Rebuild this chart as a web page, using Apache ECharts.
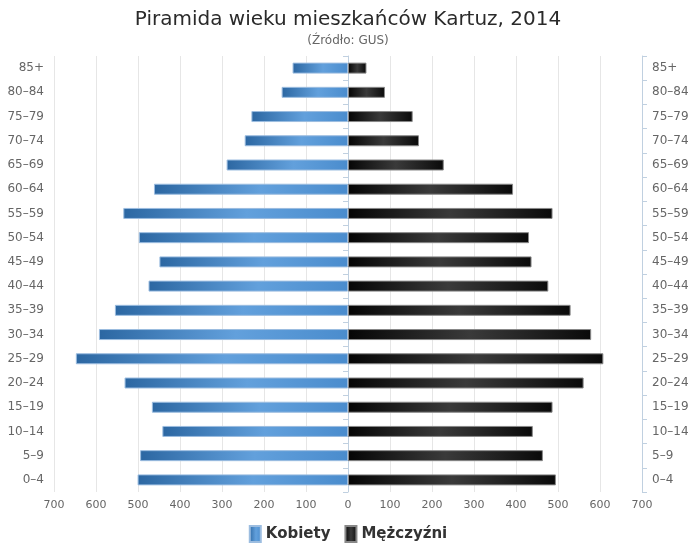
<!DOCTYPE html>
<html><head><meta charset="utf-8">
<script src="https://cdn.jsdelivr.net/npm/echarts@6/dist/echarts.min.js"></script>
<style>html,body{margin:0;padding:0;background:#fff}#c{width:696px;height:557px}</style>
</head><body><div id="c"></div>
<script>
const ageGroups = ['0–4','5–9','10–14','15–19','20–24','25–29','30–34','35–39','40–44','45–49','50–54','55–59','60–64','65–69','70–74','75–79','80–84','85+'];
const women = [501,495,442,467,532,648,593,555,475,449,498,535,462,289,246,230,158,132];
const men = [495,464,440,487,561,608,579,530,477,437,431,487,393,228,169,154,88,44];
const xTicks = {min:-700, max:700, step:100};

const chart = echarts.init(document.getElementById('c'), null, {renderer:'canvas'});
const font = 'DejaVu Sans';
const blue = new echarts.graphic.LinearGradient(0,0,1,0,[
  {offset:0,color:'#2c67a2'},{offset:0.55,color:'#62a0dc'},{offset:1,color:'#4a8ccd'}]);
const black = new echarts.graphic.LinearGradient(0,0,1,0,[
  {offset:0,color:'#050505'},{offset:0.5,color:'#3a3a3a'},{offset:1,color:'#0a0a0a'}]);
const yAxisBase = {
  type:'category', data:ageGroups, boundaryGap:true,
  axisLine:{show:true,lineStyle:{color:'#c0d0e0',width:1}},
  axisTick:{show:true,length:5,lineStyle:{color:'#c0d0e0'}},
  axisLabel:{color:'#666',fontSize:12,fontFamily:font,margin:10},
  splitLine:{show:false}
};
chart.setOption({
  animation:false,
  title:{
    text:'Piramida wieku mieszkańców Kartuz, 2014',
    subtext:'(Źródło: GUS)',
    left:'center', top:5, itemGap:5,
    textStyle:{fontFamily:font,fontSize:20,fontWeight:'normal',color:'#2a2a2a'},
    subtextStyle:{fontFamily:font,fontSize:12,color:'#666'}
  },
  legend:{
    bottom:9, left:'center', itemWidth:11, itemHeight:16, itemGap:14, icon:'rect',
    textStyle:{fontFamily:font,fontSize:15,fontWeight:'bold',color:'#333'},
    data:['Kobiety','Mężczyźni']
  },
  grid:{left:54,right:54,top:56,bottom:65,containLabel:false},
  xAxis:{
    type:'value', min:xTicks.min, max:xTicks.max, interval:xTicks.step,
    axisLine:{show:false}, axisTick:{show:false},
    axisLabel:{color:'#666',fontSize:11,fontFamily:font,margin:8,formatter:v=>Math.abs(v)},
    splitLine:{show:true,lineStyle:{color:'#e6e6e6'}}
  },
  yAxis:[
    Object.assign({},yAxisBase,{position:'left'}),
    Object.assign({},yAxisBase,{position:'right'})
  ],
  series:[
    {name:'Kobiety',type:'bar',yAxisIndex:0,data:women.map(v=>-v),barWidth:11,barGap:'-100%',
     itemStyle:{color:blue,borderColor:'#9cbde0',borderWidth:1}},
    {name:'Mężczyźni',type:'bar',yAxisIndex:0,data:men,barWidth:11,barGap:'-100%',
     itemStyle:{color:black,borderColor:'#888',borderWidth:1}}
  ]
});
</script></body></html>
